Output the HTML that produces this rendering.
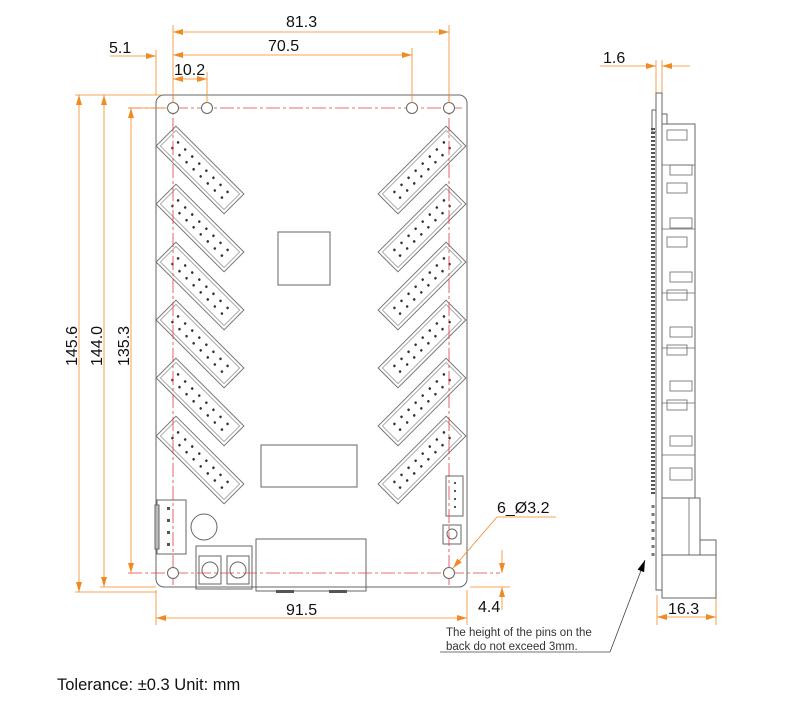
<!DOCTYPE html>
<html><head><meta charset="utf-8"><style>
html,body{margin:0;padding:0;background:#fff;width:802px;height:703px;overflow:hidden}
svg{display:block}
text{font-family:"Liberation Sans",sans-serif}
</style></head><body>
<svg width="802" height="703" viewBox="0 0 802 703" xmlns="http://www.w3.org/2000/svg">
<defs>
<marker id="a" viewBox="0 0 10 6" refX="10" refY="3" markerWidth="10" markerHeight="6" orient="auto-start-reverse" markerUnits="userSpaceOnUse"><path d="M0,0 L10,3 L0,6z" fill="#f08a24"/></marker>
<marker id="b" viewBox="0 0 10 6" refX="10" refY="3" markerWidth="12" markerHeight="7" orient="auto" markerUnits="userSpaceOnUse"><path d="M0,0 L10,3 L0,6z" fill="#000"/></marker>
<g id="conn">
<rect x="-48" y="-14" width="96" height="28" fill="#fff" stroke="#777" stroke-width="1"/>
<rect x="-45" y="-11" width="90" height="22" fill="none" stroke="#999" stroke-width="0.8"/>
<g fill="#333">
<circle cx="-35" cy="-4" r="1.3"/><circle cx="-35" cy="4" r="1.3"/>
<circle cx="-25" cy="-4" r="1.3"/><circle cx="-25" cy="4" r="1.3"/>
<circle cx="-15" cy="-4" r="1.3"/><circle cx="-15" cy="4" r="1.3"/>
<circle cx="-5" cy="-4" r="1.3"/><circle cx="-5" cy="4" r="1.3"/>
<circle cx="5" cy="-4" r="1.3"/><circle cx="5" cy="4" r="1.3"/>
<circle cx="15" cy="-4" r="1.3"/><circle cx="15" cy="4" r="1.3"/>
<circle cx="25" cy="-4" r="1.3"/><circle cx="25" cy="4" r="1.3"/>
<circle cx="35" cy="-4" r="1.3"/><circle cx="35" cy="4" r="1.3"/>
</g>
</g>
</defs>

<rect x="156" y="95" width="311" height="492" rx="8" fill="#fff" stroke="#666" stroke-width="1"/>

<g>
<use href="#conn" transform="translate(200,170) rotate(45)"/>
<use href="#conn" transform="translate(200,228) rotate(45)"/>
<use href="#conn" transform="translate(200,286) rotate(45)"/>
<use href="#conn" transform="translate(200,344) rotate(45)"/>
<use href="#conn" transform="translate(200,402) rotate(45)"/>
<use href="#conn" transform="translate(200,460) rotate(45)"/>
<use href="#conn" transform="translate(422,170) rotate(-45)"/>
<use href="#conn" transform="translate(422,228) rotate(-45)"/>
<use href="#conn" transform="translate(422,286) rotate(-45)"/>
<use href="#conn" transform="translate(422,344) rotate(-45)"/>
<use href="#conn" transform="translate(422,402) rotate(-45)"/>
<use href="#conn" transform="translate(422,460) rotate(-45)"/>
</g>

<g fill="none" stroke="#666" stroke-width="1">
<rect x="278" y="232" width="52" height="53"/>
<rect x="261" y="445" width="96" height="42"/>
<rect x="157" y="500" width="29" height="54"/>
<rect x="155" y="505" width="4" height="44" fill="#bbb"/>
<circle cx="204" cy="527" r="13"/>
<rect x="196" y="546" width="56" height="43"/>
<rect x="199" y="556" width="22" height="28"/>
<rect x="227" y="556" width="22" height="28"/>
<circle cx="210" cy="570" r="8"/><circle cx="238" cy="570" r="8"/>
<rect x="256" y="539" width="110" height="52"/>
<rect x="446" y="476" width="17" height="40"/>
<rect x="443" y="525" width="18" height="19"/>
<circle cx="452" cy="534" r="5"/>
</g>
<g fill="#555"><rect x="167" y="507" width="3" height="3"/><rect x="167" y="519" width="3" height="3"/><rect x="167" y="531" width="3" height="3"/><rect x="167" y="543" width="3" height="3"/>
<rect x="454" y="482" width="2" height="2"/><rect x="454" y="490" width="2" height="2"/><rect x="454" y="498" width="2" height="2"/><rect x="454" y="506" width="2" height="2"/>
<rect x="276" y="590" width="18" height="3"/><rect x="329" y="590" width="18" height="3"/></g>

<g stroke="#e04040" stroke-width="0.8" stroke-dasharray="14,3,3,3" fill="none">
<line x1="128" y1="108" x2="462" y2="108"/>
<line x1="128" y1="573" x2="500" y2="573"/>
<line x1="173" y1="95" x2="173" y2="585"/>
<line x1="449" y1="95" x2="449" y2="585"/>
</g>
<g fill="#fff" stroke="#666" stroke-width="1">
<circle cx="173" cy="108" r="5.5"/><circle cx="207" cy="108" r="5.5"/><circle cx="412" cy="108" r="5.5"/><circle cx="449" cy="108" r="5.5"/>
<circle cx="173" cy="573" r="5.5"/><circle cx="449" cy="573" r="5.5"/>
</g>

<g stroke="#f08a24" stroke-width="0.8" fill="none">
<line x1="173" y1="25" x2="173" y2="103"/>
<line x1="449" y1="25" x2="449" y2="103"/>
<line x1="412" y1="48" x2="412" y2="103"/>
<line x1="207" y1="72" x2="207" y2="103"/>
<line x1="156" y1="50" x2="156" y2="95"/>
<line x1="173" y1="32" x2="449" y2="32" marker-start="url(#a)" marker-end="url(#a)"/>
<line x1="173" y1="55" x2="412" y2="55" marker-start="url(#a)" marker-end="url(#a)"/>
<line x1="173" y1="79" x2="207" y2="79" marker-start="url(#a)" marker-end="url(#a)"/>
<line x1="110" y1="56" x2="156" y2="56" marker-end="url(#a)"/>
<line x1="75" y1="95" x2="162" y2="95"/>
<line x1="75" y1="592" x2="156" y2="592"/>
<line x1="100" y1="587" x2="156" y2="587"/>
<line x1="128" y1="108" x2="168" y2="108"/>
<line x1="79" y1="95" x2="79" y2="592" marker-start="url(#a)" marker-end="url(#a)"/>
<line x1="104" y1="95" x2="104" y2="587" marker-start="url(#a)" marker-end="url(#a)"/>
<line x1="131" y1="108" x2="131" y2="573" marker-start="url(#a)" marker-end="url(#a)"/>
<line x1="156" y1="590" x2="156" y2="625"/>
<line x1="467" y1="590" x2="467" y2="625"/>
<line x1="156" y1="618" x2="467" y2="618" marker-start="url(#a)" marker-end="url(#a)"/>
<line x1="470" y1="587" x2="510" y2="587"/>
<line x1="502" y1="550" x2="502" y2="573" marker-end="url(#a)"/>
<line x1="502" y1="610" x2="502" y2="587" marker-end="url(#a)"/>
<line x1="497" y1="517" x2="556" y2="517"/>
<line x1="497" y1="517" x2="453" y2="568" marker-end="url(#a)"/>
<line x1="656" y1="60" x2="656" y2="93"/>
<line x1="662" y1="60" x2="662" y2="93"/>
<line x1="600" y1="66" x2="656" y2="66" marker-end="url(#a)"/>
<line x1="690" y1="66" x2="662" y2="66" marker-end="url(#a)"/>
<line x1="657" y1="595" x2="657" y2="625"/>
<line x1="716" y1="598" x2="716" y2="625"/>
<line x1="657" y1="617" x2="716" y2="617" marker-start="url(#a)" marker-end="url(#a)"/>
</g>

<g font-size="16" fill="#111">
<text x="286" y="27">81.3</text>
<text x="268" y="51">70.5</text>
<text x="174" y="75">10.2</text>
<text x="109" y="53">5.1</text>
<text transform="translate(77,366) rotate(-90)">145.6</text>
<text transform="translate(102,366) rotate(-90)">144.0</text>
<text transform="translate(129,366) rotate(-90)">135.3</text>
<text x="286" y="615">91.5</text>
<text x="478" y="612">4.4</text>
<text x="497" y="513">6_Ø3.2</text>
<text x="603" y="63">1.6</text>
<text x="668" y="614">16.3</text>
</g>

<g font-size="11.5" fill="#333">
<text x="446" y="636">The height of the pins on the</text>
<text x="446" y="650">back do not exceed 3mm.</text>
</g>
<line x1="440" y1="652" x2="610" y2="652" stroke="#444" stroke-width="0.8"/>
<line x1="610" y1="652" x2="645" y2="560" stroke="#444" stroke-width="0.8" marker-end="url(#b)"/>

<text x="57" y="690" font-size="16.5" fill="#111">Tolerance: ±0.3 Unit: mm</text>

<g fill="#fff" stroke="#666" stroke-width="1">
<rect x="656" y="93" width="6" height="497"/>
<rect x="652" y="110" width="4" height="22"/>
<rect x="662" y="114" width="5" height="10"/>
<rect x="662" y="124" width="33" height="376"/>
<rect x="662" y="498" width="38" height="58"/>
<rect x="700" y="540" width="16" height="58"/>
<rect x="662" y="555" width="54" height="43"/>
</g>
<g stroke="#666" stroke-width="0.8" fill="none">
<line x1="662" y1="165" x2="695" y2="165"/><line x1="662" y1="229" x2="695" y2="229"/>
<line x1="662" y1="293" x2="695" y2="293"/><line x1="662" y1="348" x2="695" y2="348"/>
<line x1="662" y1="403" x2="695" y2="403"/><line x1="662" y1="455" x2="695" y2="455"/>
<rect x="667" y="130" width="20" height="10"/><rect x="667" y="183" width="20" height="10"/>
<rect x="667" y="237" width="20" height="10"/><rect x="667" y="290" width="20" height="10"/>
<rect x="667" y="345" width="20" height="10"/><rect x="667" y="400" width="20" height="10"/>
<rect x="670" y="165" width="22" height="10"/><rect x="670" y="218" width="22" height="10"/>
<rect x="670" y="272" width="22" height="10"/><rect x="670" y="327" width="22" height="10"/>
<rect x="670" y="381" width="22" height="10"/><rect x="670" y="436" width="22" height="10"/>
<rect x="670" y="468" width="22" height="12"/>
<line x1="689" y1="498" x2="689" y2="555"/>
</g>
<path d="M653,128 V495" stroke="#555" stroke-width="4" stroke-dasharray="2,2" fill="none"/>
<path d="M653,505 V560" stroke="#777" stroke-width="3" stroke-dasharray="3,5" fill="none"/>
</svg>
</body></html>
